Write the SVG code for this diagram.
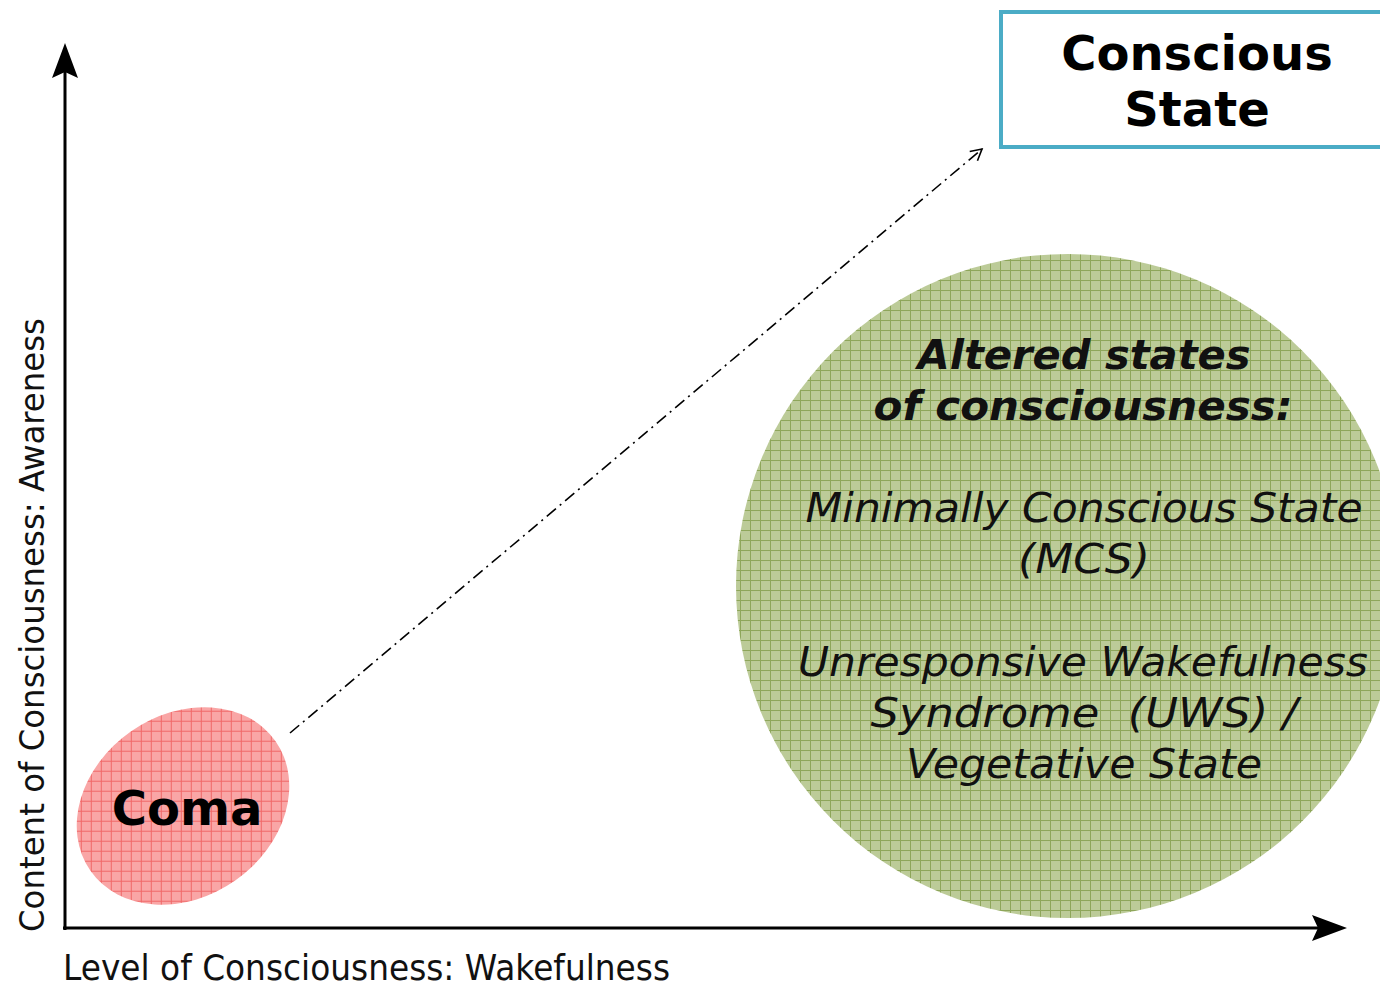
<svg xmlns="http://www.w3.org/2000/svg" width="1380" height="988" viewBox="0 0 1380 988">
<style>
.lbl{font-family:"DejaVu Sans","Liberation Sans",sans-serif;fill:#111}
.big{font-family:"DejaVu Sans",Verdana,sans-serif;font-weight:bold;fill:#000}
.it{font-family:"DejaVu Sans",Verdana,sans-serif;font-style:italic;font-size:40px;fill:#111;text-anchor:middle}
.axis{stroke:#000;stroke-width:3;fill:none}
</style>
<defs>
<pattern id="redgrid" width="10" height="10" patternUnits="userSpaceOnUse" patternTransform="rotate(35)">
<rect width="10" height="10" fill="#f9a6a6"/>
<path d="M0 0.5H10M0.5 0V10" stroke="#f06868" stroke-width="1"/>
</pattern>
<pattern id="greengrid" width="10" height="10" patternUnits="userSpaceOnUse">
<rect width="10" height="10" fill="#bccb98"/>
<path d="M0 0.5H10M0.5 0V10" stroke="#8ea65a" stroke-width="1"/>
</pattern>
<marker id="open" markerWidth="14" markerHeight="14" refX="12" refY="7" orient="auto" markerUnits="userSpaceOnUse">
<path d="M1 1L12 7L1 13" fill="none" stroke="#000" stroke-width="1.6"/>
</marker>
</defs>
<rect width="1380" height="988" fill="#fff"/>
<g id="axes">
<line class="axis" x1="65" y1="930" x2="65" y2="70"/>
<polygon points="65,43 52,78 65,72 78,78" fill="#000"/>
<line class="axis" x1="63" y1="928" x2="1320" y2="928"/>
<polygon points="1347,928 1312,915 1318,928 1312,941" fill="#000"/>
<text class="lbl" x="63" y="980" font-size="35" textLength="607" lengthAdjust="spacingAndGlyphs">Level of Consciousness: Wakefulness</text>
<text class="lbl" transform="translate(44,932) rotate(-90)" x="0" y="0" font-size="33" textLength="614" lengthAdjust="spacingAndGlyphs">Content of Consciousness: Awareness</text>
</g>
<g id="connectors">
<line x1="290" y1="733" x2="982" y2="149" stroke="#000" stroke-width="1.6" stroke-dasharray="12,5,2,5" marker-end="url(#open)"/>
</g>
<g id="altered">
<circle cx="1068" cy="586" r="332" fill="url(#greengrid)"/>
<text class="it" x="1084" y="369" font-weight="bold" textLength="333" lengthAdjust="spacingAndGlyphs">Altered states</text>
<text class="it" x="1083" y="420" font-weight="bold" textLength="419" lengthAdjust="spacingAndGlyphs">of consciousness:</text>
<text class="it" x="1084" y="522" textLength="557" lengthAdjust="spacingAndGlyphs">Minimally Conscious State</text>
<text class="it" x="1084" y="573" textLength="132" lengthAdjust="spacingAndGlyphs">(MCS)</text>
<text class="it" x="1083" y="676" textLength="570" lengthAdjust="spacingAndGlyphs">Unresponsive Wakefulness</text>
<text class="it" x="1084" y="727" xml:space="preserve" textLength="427" lengthAdjust="spacingAndGlyphs">Syndrome  (UWS) /</text>
<text class="it" x="1084" y="778" textLength="356" lengthAdjust="spacingAndGlyphs">Vegetative State</text>
</g>
<g id="coma">
<ellipse cx="183" cy="806" rx="113" ry="91" transform="rotate(-35 183 806)" fill="url(#redgrid)"/>
<text class="big" x="187" y="825" font-size="48" text-anchor="middle">Coma</text>
</g>
<g id="conscious">
<rect x="1001" y="12" width="390" height="135" fill="#fff" stroke="#4bacc6" stroke-width="4"/>
<text class="big" x="1197" y="70" font-size="48" text-anchor="middle">Conscious</text>
<text class="big" x="1197" y="126" font-size="48" text-anchor="middle">State</text>
</g>
</svg>
